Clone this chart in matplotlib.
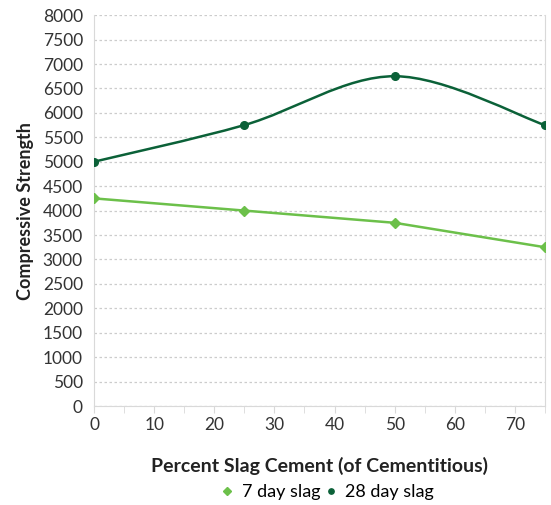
import matplotlib.pyplot as plt
from matplotlib.path import Path
from matplotlib.patches import PathPatch
import numpy as np

plt.rcParams['font.family'] = ['Lato', 'DejaVu Sans']

slag_pct = [0, 25, 50, 75]
day7 = [4250, 4000, 3750, 3250]
day28 = [5000, 5750, 6750, 5750]

c7 = '#6cc04a'
c28 = '#0b6138'

fig = plt.figure(figsize=(5.51, 5.05), dpi=100)
ax = fig.add_axes([0.1706, 0.196, 0.8184, 0.774])


def smooth_path(xs, ys):
    # Excel-like smoothed line: Bezier segments with catmull-rom control points
    p = np.column_stack([xs, ys]).astype(float)
    ext = np.vstack([p[0], p, p[-1]])
    verts = [p[0]]
    codes = [Path.MOVETO]
    for i in range(len(p) - 1):
        a, b, c, d = ext[i], ext[i + 1], ext[i + 2], ext[i + 3]
        verts += [b + (c - a) / 6, c - (d - b) / 6, c]
        codes += [Path.CURVE4] * 3
    return Path(verts, codes)


ax.plot(slag_pct, day7, color=c7, lw=1.8, zorder=3)
ax.plot(slag_pct, day7, ls='none', color=c7, marker='D', ms=5.5, label='7 day slag', zorder=4)
ax.add_patch(PathPatch(smooth_path(slag_pct, day28), fill=False, ec=c28, lw=1.8, zorder=3))
ax.plot(slag_pct, day28, ls='none', color=c28, marker='o', ms=5.5, label='28 day slag', zorder=4)

ax.set_xlim(0, 75)
ax.set_ylim(0, 8000)
ax.set_yticks(np.arange(0, 8001, 500))
ax.set_xticks(np.arange(0, 71, 10))
ax.set_xticks(np.arange(0, 76, 5), minor=True)
ax.grid(axis='y', ls=(0, (2, 2)), color='#cccccc', lw=0.9)
ax.set_axisbelow(True)

for s in ['left', 'bottom', 'right']:
    ax.spines[s].set_color('#d9d9d9')
ax.spines['top'].set_visible(False)
ax.tick_params(axis='y', length=0, labelsize=12.5, colors='#333333', pad=8)
ax.tick_params(axis='x', which='both', length=5, color='#d9d9d9', labelsize=12.5, labelcolor='#333333')
ax.tick_params(axis='x', which='major', pad=3)

ax.set_xlabel('Percent Slag Cement (of Cementitious)', fontsize=14, fontweight='bold', color='#222222', labelpad=17)
ax.set_ylabel('Compressive Strength', fontsize=13, fontweight='bold', color='#222222', labelpad=6)

fig.legend(loc='center', bbox_to_anchor=(0.595, 0.025), ncol=2, frameon=False,
           fontsize=13, handlelength=0.6, handletextpad=0.5, columnspacing=0.3, markerscale=0.7)

fig.savefig('out.png', dpi=100)
